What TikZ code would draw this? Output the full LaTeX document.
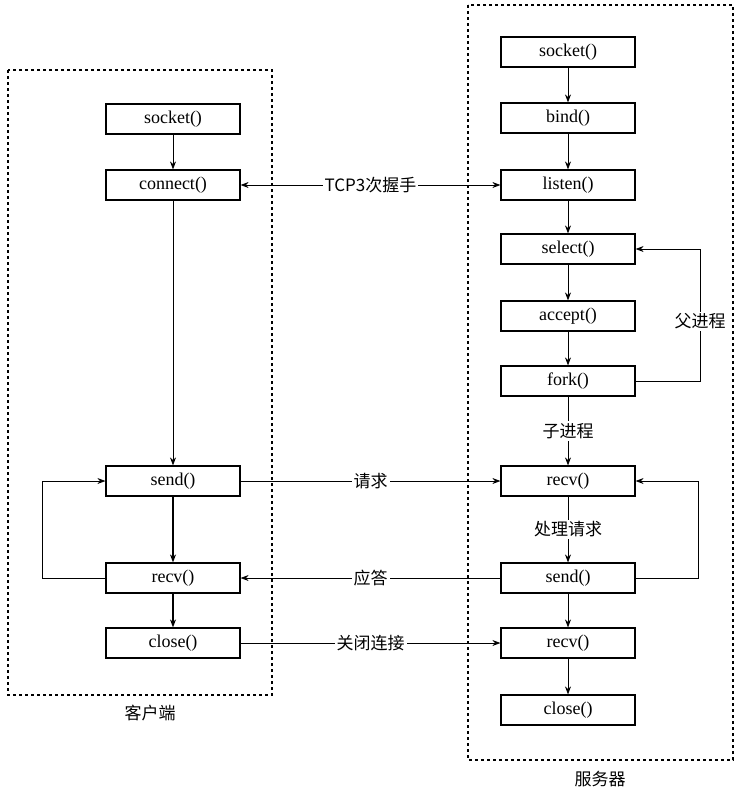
\documentclass[tikz,border=0pt]{standalone}
\usepackage{fontspec}
\setmainfont{Liberation Serif}
\newfontfamily\cjk{Noto Sans CJK SC}
\usetikzlibrary{arrows.meta}
\begin{document}
\begin{tikzpicture}[x=1pt,y=-1pt,
  box/.style={draw,line width=1.2pt,minimum width=134pt,minimum height=30pt,inner sep=0pt,font=\fontsize{18}{20}\selectfont},
  arr/.style={-{Stealth[length=8pt,width=6pt]},line width=0.8pt},
  lab/.style={fill=white,inner sep=2pt,font=\cjk\fontsize{17}{20}\selectfont},
  dbox/.style={draw,dashed,line width=1.1pt}]
\useasboundingbox (0,0) rectangle (746,796);
\draw[dbox] (8,70) rectangle (272,695);
\draw[dbox] (468,5) rectangle (733,760);
\node[lab] (cl) at (150,713) {客户端};
\node[lab] (sl) at (600,779) {服务器};
% client
\node[box] (cs) at (173,119) {socket()};
\node[box] (cc) at (173,185) {connect()};
\node[box] (csend) at (173,481) {send()};
\node[box] (crecv) at (173,578) {recv()};
\node[box] (cclose) at (173,643) {close()};
% server
\node[box] (ss) at (568,52) {socket()};
\node[box] (sb) at (568,118) {bind()};
\node[box] (sl2) at (568,185) {listen()};
\node[box] (ssel) at (568,249) {select()};
\node[box] (sacc) at (568,316) {accept()};
\node[box] (sfork) at (568,381) {fork()};
\node[box] (srecv) at (568,481) {recv()};
\node[box] (ssend) at (568,578) {send()};
\node[box] (srecv2) at (568,643) {recv()};
\node[box] (sclose) at (568,710) {close()};
% client vertical
\draw[arr] (cs) -- (cc);
\draw[arr] (cc) -- (csend);
\draw[arr,line width=1.4pt] (csend) -- (crecv);
\draw[arr,line width=1.4pt] (crecv) -- (cclose);
\coordinate (cl1) at (42,578); \coordinate (cl2) at (42,481);
\draw[arr] (crecv.west) -- (cl1) -- (cl2) -- (csend.west);
% server vertical
\draw[arr] (ss) -- (sb);
\draw[arr] (sb) -- (sl2);
\draw[arr] (sl2) -- (ssel);
\draw[arr] (ssel) -- (sacc);
\draw[arr] (sacc) -- (sfork);
\draw[arr] (sfork) -- node[lab]{子进程} (srecv);
\draw[arr] (srecv) -- node[lab]{处理请求} (ssend);
\draw[arr] (ssend) -- (srecv2);
\draw[arr] (srecv2) -- (sclose);
\coordinate (f1) at (700,381); \coordinate (f2) at (700,249);
\draw[arr] (sfork.east) -- (f1) -- node[lab,pos=0.45]{父进程} (f2) -- (ssel.east);
\coordinate (s1) at (698,578); \coordinate (s2) at (698,481);
\draw[arr] (ssend.east) -- (s1) -- (s2) -- (srecv.east);
% horizontal
\draw[{Stealth[length=8pt,width=6pt]}-{Stealth[length=8pt,width=6pt]},line width=0.8pt] (cc) -- node[lab]{TCP3次握手} (sl2);
\draw[arr] (csend) -- node[lab]{请求} (srecv);
\draw[arr] (ssend) -- node[lab]{应答} (crecv);
\draw[arr] (cclose) -- node[lab]{关闭连接} (srecv2);
\end{tikzpicture}
\end{document}
